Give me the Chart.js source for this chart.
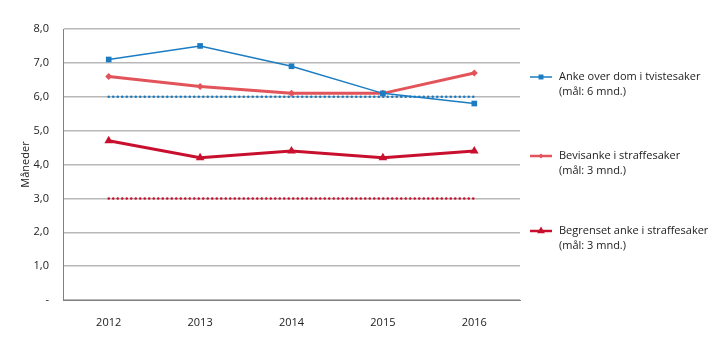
<!DOCTYPE html>
<html>
<head>
<meta charset="utf-8">
<script src="https://cdn.jsdelivr.net/npm/chart.js@4"></script>
<style>
  html, body { margin: 0; padding: 0; background: #fff; }
  #wrap { width: 720px; height: 341px; position: relative; }
</style>
</head>
<body>
<div id="wrap"><canvas id="grafico"></canvas></div>
<script>
const aar = ['2012', '2013', '2014', '2015', '2016'];
const ankeTvist = [7.1, 7.5, 6.9, 6.1, 5.8];
const bevisanke = [6.6, 6.3, 6.1, 6.1, 6.7];
const begrenset = [4.7, 4.2, 4.4, 4.2, 4.4];
const maalTvist = [6, 6, 6, 6, 6];
const maalStraff = [3, 3, 3, 3, 3];
const legendTekster = [
  ['Anke over dom i tvistesaker', '(mål: 6 mnd.)'],
  ['Bevisanke i straffesaker', '(mål: 3 mnd.)'],
  ['Begrenset anke i straffesaker', '(mål: 3 mnd.)']
];

const blaa = '#1b7cc2';
const lysRod = '#e2545a';
const morkRod = '#c8102e';
const skrift = '"Open Sans", "DejaVu Sans", sans-serif';

// egen legende til høyre, med to linjer tekst
const legendePlugin = {
  id: 'legende',
  afterDraw(chart) {
    const ctx = chart.ctx;
    const ytop = [77, 156, 231];
    const radier = [3.5, 2.5, 4.5];
    for (let i = 0; i < 3; i++) {
      const ds = chart.data.datasets[i];
      const y = ytop[i];
      ctx.save();
      ctx.strokeStyle = ds.borderColor;
      ctx.lineWidth = i === 0 ? 1.5 : 2.5;
      ctx.beginPath();
      ctx.moveTo(530, y);
      ctx.lineTo(552, y);
      ctx.stroke();
      ctx.fillStyle = ds.borderColor;
      Chart.helpers.drawPoint(ctx, {
        pointStyle: ds.pointStyle,
        radius: radier[i],
        rotation: 0,
        borderWidth: 0
      }, 541, y);
      ctx.fillStyle = '#222';
      ctx.font = '11px ' + skrift;
      ctx.textBaseline = 'middle';
      ctx.textAlign = 'left';
      ctx.fillText(legendTekster[i][0], 559, y);
      ctx.fillText(legendTekster[i][1], 559, y + 15);
      ctx.restore();
    }
  }
};

const grafico = new Chart(document.getElementById('grafico'), {
  type: 'line',
  data: {
    labels: aar,
    datasets: [
      {
        label: 'Anke over dom i tvistesaker',
        data: ankeTvist,
        borderColor: blaa,
        backgroundColor: blaa,
        borderWidth: 1.5,
        pointStyle: 'rect',
        pointRadius: 4,
        pointBorderWidth: 0
      },
      {
        label: 'Bevisanke i straffesaker',
        data: bevisanke,
        borderColor: lysRod,
        backgroundColor: lysRod,
        borderWidth: 3,
        pointStyle: 'rectRot',
        pointRadius: 3.5,
        pointBorderWidth: 0
      },
      {
        label: 'Begrenset anke i straffesaker',
        data: begrenset,
        borderColor: morkRod,
        backgroundColor: morkRod,
        borderWidth: 3,
        pointStyle: 'triangle',
        pointRadius: 5,
        pointBorderWidth: 0
      },
      {
        label: 'Mål tvist',
        data: maalTvist,
        borderColor: blaa,
        borderWidth: 2.5,
        borderDash: [0.1, 4.4],
        borderCapStyle: 'round',
        pointRadius: 0
      },
      {
        label: 'Mål straff',
        data: maalStraff,
        borderColor: morkRod,
        borderWidth: 2.5,
        borderDash: [0.1, 4.4],
        borderCapStyle: 'round',
        pointRadius: 0
      }
    ]
  },
  options: {
    responsive: true,
    maintainAspectRatio: false,
    animation: false,
    layout: { padding: { top: 29, right: 200, left: 0, bottom: 0 } },
    plugins: {
      legend: { display: false },
      tooltip: { enabled: false }
    },
    scales: {
      x: {
        offset: true,
        grid: { display: false },
        border: { display: true, color: '#808080', width: 1 },
        ticks: { color: '#222', font: { family: skrift, size: 11 }, padding: 8 },
        afterFit: s => { s.height = 41; }
      },
      y: {
        min: 0,
        max: 8,
        ticks: {
          stepSize: 1,
          color: '#222',
          font: { family: skrift, size: 11 },
          padding: 14,
          callback: v => v === 0 ? '-' : v.toFixed(1).replace('.', ',')
        },
        grid: { color: '#b8b8b8', lineWidth: 1.5, drawTicks: false },
        border: { display: true, color: '#808080', width: 1 },
        title: {
          display: true,
          text: 'Måneder',
          color: '#222',
          font: { family: skrift, size: 11 },
          padding: { top: 19, bottom: 4 }
        },
        afterFit: s => { s.width = 63; }
      }
    }
  },
  plugins: [legendePlugin]
});
</script>
</body>
</html>
